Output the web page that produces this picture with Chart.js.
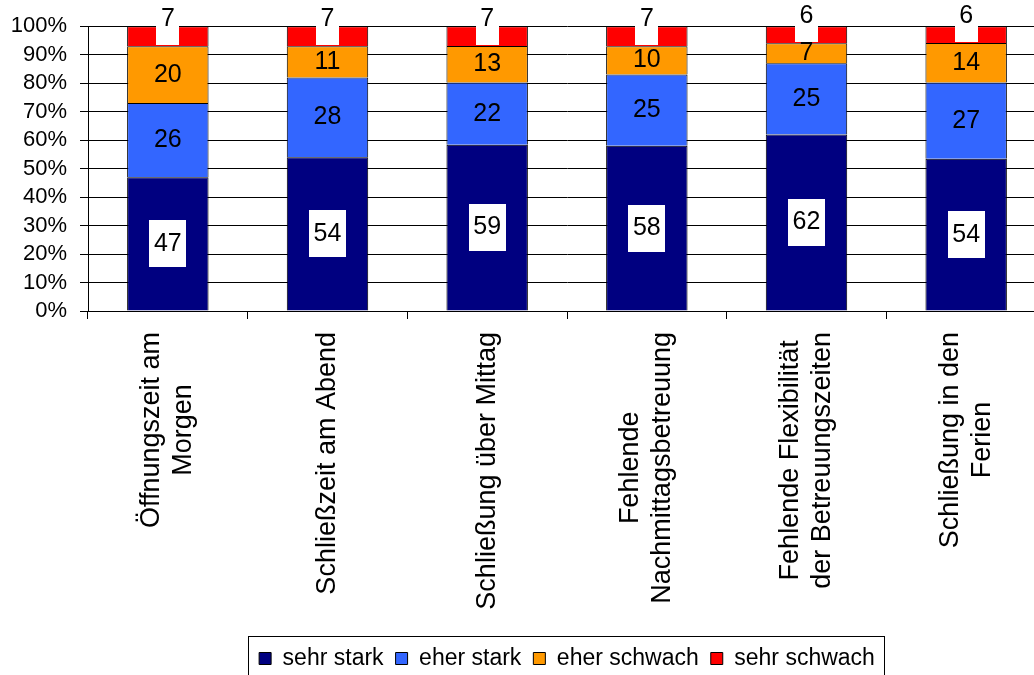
<!DOCTYPE html>
<html>
<head>
<meta charset="utf-8">
<script src="https://cdn.jsdelivr.net/npm/chart.js@4.4.1/dist/chart.umd.min.js"></script>
<style>
html, body { margin: 0; padding: 0; background: #fff; overflow: hidden; }
#wrap { width: 1060px; height: 690px; }
</style>
</head>
<body>
<div id="wrap"><canvas id="chart" width="1060" height="690"></canvas></div>
<script>
const categories = [
    ['Öffnungszeit am', 'Morgen'],
    ['Schließzeit am Abend'],
    ['Schließung über Mittag'],
    ['Fehlende', 'Nachmittagsbetreuung'],
    ['Fehlende Flexibilität', 'der Betreuungszeiten'],
    ['Schließung in den', 'Ferien']
];
const sehrStark = [47, 54, 59, 58, 62, 54];
const eherStark = [26, 28, 22, 25, 25, 27];
const eherSchwach = [20, 11, 13, 10, 7, 14];
const sehrSchwach = [7, 7, 7, 7, 6, 6];

const seriesNames = ['sehr stark', 'eher stark', 'eher schwach', 'sehr schwach'];
const seriesColors = ['#000080', '#3366FF', '#FF9900', '#FF0000'];
const FONT = '"Liberation Sans", Arial, sans-serif';

const series = [sehrStark, eherStark, eherSchwach, sehrSchwach];
// 100% stacking: share of each answer within its category
const totals = categories.map((c, i) => series.reduce((s, arr) => s + arr[i], 0));

const datasets = series.map((arr, k) => ({
    label: seriesNames[k],
    raw: arr,
    data: arr.map((v, i) => v / totals[i] * 100),
    backgroundColor: seriesColors[k],
    borderColor: '#000',
    borderWidth: 1,
    barPercentage: 0.51,
    categoryPercentage: 1
}));

// value labels inside the segments, white box for the first and last series
const segmentLabels = {
    id: 'segmentLabels',
    afterDatasetsDraw(chart) {
        const ctx = chart.ctx;
        ctx.save();
        ctx.font = '25px ' + FONT;
        ctx.textAlign = 'center';
        ctx.textBaseline = 'middle';
        chart.data.datasets.forEach((ds, di) => {
            chart.getDatasetMeta(di).data.forEach((bar, i) => {
                const text = String(ds.raw[i]);
                const w = ctx.measureText(text).width + 9;
                let cy = (bar.y + bar.base) / 2;
                if (di === 0) {
                    ctx.fillStyle = '#fff';
                    ctx.fillRect(Math.round(bar.x - w / 2), Math.round(cy - 23.5), Math.round(w), 47);
                } else if (di === 3) {
                    const bottom = bar.base - 1;
                    ctx.fillStyle = '#fff';
                    ctx.fillRect(Math.round(bar.x - w / 2), Math.round(bottom - 47), Math.round(w), 47);
                    cy = bottom - 26;
                }
                ctx.fillStyle = '#000';
                ctx.fillText(text, bar.x, cy);
            });
        });
        ctx.restore();
    }
};

// rotated, multi-line category labels (lines centred on each other)
const xLabels = {
    id: 'xLabels',
    afterDraw(chart) {
        const ctx = chart.ctx;
        const xs = chart.scales.x;
        const top = xs.top + 21;
        ctx.save();
        ctx.font = '27px ' + FONT;
        ctx.fillStyle = '#000';
        ctx.textAlign = 'center';
        ctx.textBaseline = 'middle';
        categories.forEach((lines, i) => {
            const cx = xs.getPixelForValue(i);
            const len = Math.max(...lines.map(l => ctx.measureText(l).width));
            ctx.save();
            ctx.translate(cx, top);
            ctx.rotate(-Math.PI / 2);
            lines.forEach((line, j) => {
                ctx.fillText(line, -len / 2, (j - (lines.length - 1) / 2) * 32);
            });
            ctx.restore();
        });
        ctx.restore();
    }
};

// frame round the legend
const legendFrame = {
    id: 'legendFrame',
    afterDraw(chart) {
        const boxes = chart.legend.legendHitBoxes;
        if (!boxes || !boxes.length) return;
        const ctx = chart.ctx;
        const last = boxes[boxes.length - 1];
        const left = Math.round(boxes[0].left - 11);
        const right = Math.round(last.left + last.width + 9);
        const cy = boxes[0].top + boxes[0].height / 2;
        ctx.save();
        ctx.strokeStyle = '#000';
        ctx.lineWidth = 1;
        ctx.strokeRect(left + 0.5, Math.round(cy - 22.5) + 0.5, right - left, 60);
        ctx.restore();
    }
};

new Chart(document.getElementById('chart').getContext('2d'), {
    type: 'bar',
    data: { labels: categories, datasets: datasets },
    plugins: [segmentLabels, xLabels, legendFrame],
    options: {
        responsive: false,
        animation: false,
        layout: { padding: { top: 26, right: 14, bottom: 10, left: 0 } },
        plugins: {
            tooltip: { enabled: false },
            legend: {
                position: 'bottom',
                fullSize: false,
                labels: {
                    boxWidth: 12,
                    boxHeight: 12,
                    padding: 12,
                    color: '#000',
                    font: { size: 23, family: FONT }
                }
            }
        },
        scales: {
            x: {
                stacked: true,
                ticks: { display: false },
                grid: { drawOnChartArea: false, color: '#000', tickLength: 8 },
                border: { color: '#000' },
                afterFit: s => { s.height = 324; }
            },
            y: {
                stacked: true,
                min: 0,
                max: 100,
                ticks: {
                    stepSize: 10,
                    autoSkip: false,
                    padding: 13,
                    color: '#000',
                    font: { size: 22, family: FONT },
                    callback: v => v + '%'
                },
                grid: { color: '#000', tickLength: 8 },
                border: { color: '#000' },
                afterFit: s => { s.width = 88; }
            }
        }
    }
});
</script>
</body>
</html>
